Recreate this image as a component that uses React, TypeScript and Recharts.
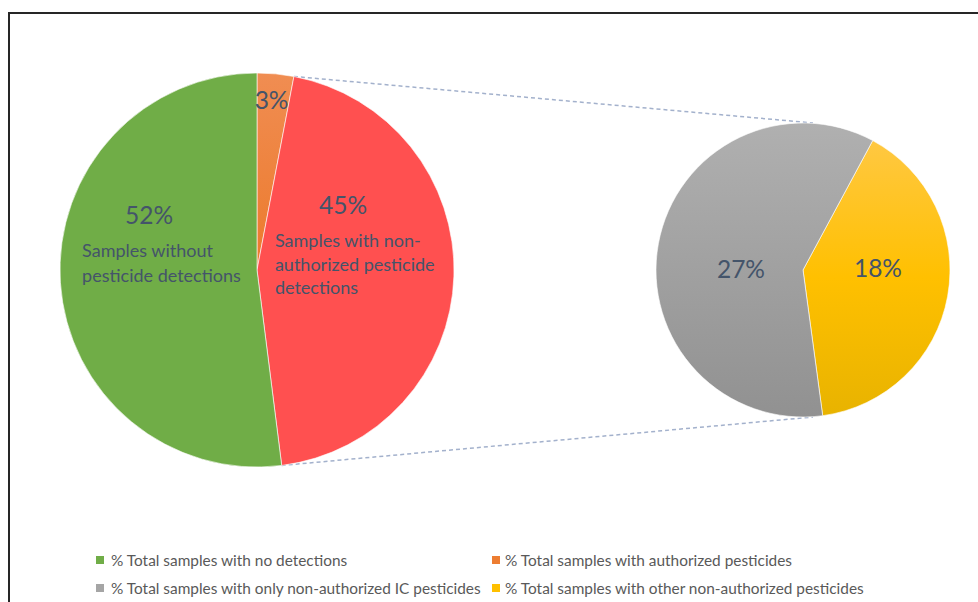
import React from 'react';
import { PieChart, Pie, Cell, Legend, Customized } from 'recharts';

// ---- data ----
const leftCategories = ['Authorized pesticides', 'Non-authorized pesticides', 'No detections'];
const leftValues = [3, 45, 52];
const leftCaptions: string[][] = [
  [],
  ['Samples with non-', 'authorized pesticide', 'detections'],
  ['Samples without', 'pesticide detections'],
];
const rightCategories = ['Other non-authorized pesticides', 'Only non-authorized IC pesticides'];
const rightValues = [18, 27];
const legendLabels = [
  '% Total samples with no detections',
  '% Total samples with authorized pesticides',
  '% Total samples with only non-authorized IC pesticides',
  '% Total samples with other non-authorized pesticides',
];

// ---- styles / layout ----
const W = 978;
const H = 602;
const FONT = 'Lato, "Open Sans", sans-serif';
const LABEL_COLOR = '#44546A';
const leftFills = ['url(#gOrange)', '#FF5050', '#70AD47'];
const rightFills = ['url(#gYellow)', 'url(#gGray)'];
const legendColors = ['#70AD47', '#ED7D31', '#A5A5A5', '#FFC000'];

const L = { cx: 257, cy: 270, r: 197 };
const R = { cx: 803, cy: 270, r: 147 };

// label anchors relative to pie radius
const leftLabelLayout = [
  { px: 0.074, py: -0.863, tx: 0, ty: 0, lh: 0 },
  { px: 0.437, py: -0.335, tx: 0.091, ty: -0.152, lh: 23.5 },
  { px: -0.548, py: -0.284, tx: -0.888, ty: -0.102, lh: 25 },
];
const rightLabelLayout = [
  { px: 0.51, py: -0.014, tx: 0, ty: 0, lh: 0 },
  { px: -0.422, py: -0.01, tx: 0, ty: 0, lh: 0 },
];

const sumL = leftValues.reduce((a, b) => a + b, 0);
// yellow slice starts at ~28 degrees clockwise from the top
const rightStart = 90 - 28.3;

function makeLabel(layout: typeof leftLabelLayout, captions: string[][] | null) {
  return (props: any) => {
    const { cx, cy, outerRadius, index, value } = props;
    const lay = layout[index];
    const lines = captions ? captions[index] : [];
    return (
      <g>
        <text
          x={cx + lay.px * outerRadius}
          y={cy + lay.py * outerRadius}
          fill={LABEL_COLOR}
          fontSize={24.5}
          fontFamily={FONT}
          textAnchor="middle"
          dominantBaseline="central"
        >
          {`${value}%`}
        </text>
        {lines.map((ln, i) => (
          <text
            key={i}
            x={cx + lay.tx * outerRadius}
            y={cy + lay.ty * outerRadius + i * lay.lh}
            fill={LABEL_COLOR}
            fontSize={18}
            fontFamily={FONT}
            textAnchor="start"
            dominantBaseline="central"
          >
            {ln}
          </text>
        ))}
      </g>
    );
  };
}

const Connectors = () => {
  const a1 = (leftValues[0] / sumL) * 2 * Math.PI;
  const a2 = ((leftValues[0] + leftValues[1]) / sumL) * 2 * Math.PI;
  const p1 = { x: L.cx + L.r * Math.sin(a1), y: L.cy - L.r * Math.cos(a1) };
  const p2 = { x: L.cx + L.r * Math.sin(a2), y: L.cy - L.r * Math.cos(a2) };
  const q1 = { x: R.cx + 10, y: R.cy - R.r };
  const q2 = { x: R.cx + 10, y: R.cy + R.r };
  const st = { stroke: '#A3B1CC', strokeWidth: 1.5, strokeDasharray: '4 3', fill: 'none' };
  return (
    <g>
      <line x1={p1.x} y1={p1.y} x2={q1.x} y2={q1.y} {...st} />
      <line x1={p2.x} y1={p2.y} x2={q2.x} y2={q2.y} {...st} />
    </g>
  );
};

const LegendContent = () => {
  const pos = [
    { sx: 96, tx: 111, y: 560 },
    { sx: 492, tx: 505, y: 560 },
    { sx: 96, tx: 111, y: 588 },
    { sx: 492, tx: 505, y: 588 },
  ];
  return (
    <div style={{ position: 'relative', width: W, height: H }}>
      {legendLabels.map((lab, i) => (
        <React.Fragment key={i}>
          <div
            style={{
              position: 'absolute',
              left: pos[i].sx,
              top: pos[i].y - 4,
              width: 8,
              height: 8,
              background: legendColors[i],
            }}
          />
          <div
            style={{
              position: 'absolute',
              left: pos[i].tx,
              top: pos[i].y - 10,
              height: 20,
              lineHeight: '20px',
              fontFamily: FONT,
              fontSize: 15.4,
              color: '#595959',
              whiteSpace: 'nowrap',
            }}
          >
            {lab}
          </div>
        </React.Fragment>
      ))}
    </div>
  );
};

export default function App() {
  const leftData = leftCategories.map((name, i) => ({ name, value: leftValues[i] }));
  const rightData = rightCategories.map((name, i) => ({ name, value: rightValues[i] }));
  return (
    <div style={{ position: 'absolute', left: 0, top: 0, width: W, height: H, background: '#fff', overflow: 'hidden' }}>
      <div
        style={{
          position: 'absolute',
          left: 8,
          top: 12,
          width: W,
          height: H,
          borderTop: '2px solid #262626',
          borderLeft: '2px solid #262626',
          boxSizing: 'border-box',
        }}
      />
      <PieChart width={W} height={H} margin={{ top: 0, right: 0, bottom: 0, left: 0 }} style={{ position: 'absolute', left: 0, top: 0 }}>
        <defs>
          <linearGradient id="gOrange" x1="0" y1="0" x2="0" y2="1">
            <stop offset="0%" stopColor="#F08D52" />
            <stop offset="100%" stopColor="#EC7A2C" />
          </linearGradient>
          <linearGradient id="gYellow" x1="0" y1="0" x2="0" y2="1">
            <stop offset="0%" stopColor="#FFC842" />
            <stop offset="50%" stopColor="#FFC000" />
            <stop offset="100%" stopColor="#E8B300" />
          </linearGradient>
          <linearGradient id="gGray" x1="0" y1="0" x2="0" y2="1">
            <stop offset="0%" stopColor="#B0B0B0" />
            <stop offset="100%" stopColor="#919191" />
          </linearGradient>
        </defs>
        <Customized component={<Connectors />} />
        <Pie
          data={leftData}
          dataKey="value"
          nameKey="name"
          cx={L.cx}
          cy={L.cy}
          outerRadius={L.r}
          startAngle={90}
          endAngle={-270}
          stroke="#fff"
          strokeWidth={0.6}
          isAnimationActive={false}
          labelLine={false}
          label={makeLabel(leftLabelLayout, leftCaptions)}
          legendType="none"
        >
          {leftData.map((d, i) => (
            <Cell key={d.name} fill={leftFills[i]} />
          ))}
        </Pie>
        <Pie
          data={rightData}
          dataKey="value"
          nameKey="name"
          cx={R.cx}
          cy={R.cy}
          outerRadius={R.r}
          startAngle={rightStart}
          endAngle={rightStart - 360}
          stroke="#fff"
          strokeWidth={0.6}
          isAnimationActive={false}
          labelLine={false}
          label={makeLabel(rightLabelLayout, null)}
          legendType="none"
        >
          {rightData.map((d, i) => (
            <Cell key={d.name} fill={rightFills[i]} />
          ))}
        </Pie>
        <Legend
          content={<LegendContent />}
          wrapperStyle={{ position: 'absolute', left: 0, top: 0, width: W, height: H, pointerEvents: 'none' }}
        />
      </PieChart>
    </div>
  );
}
